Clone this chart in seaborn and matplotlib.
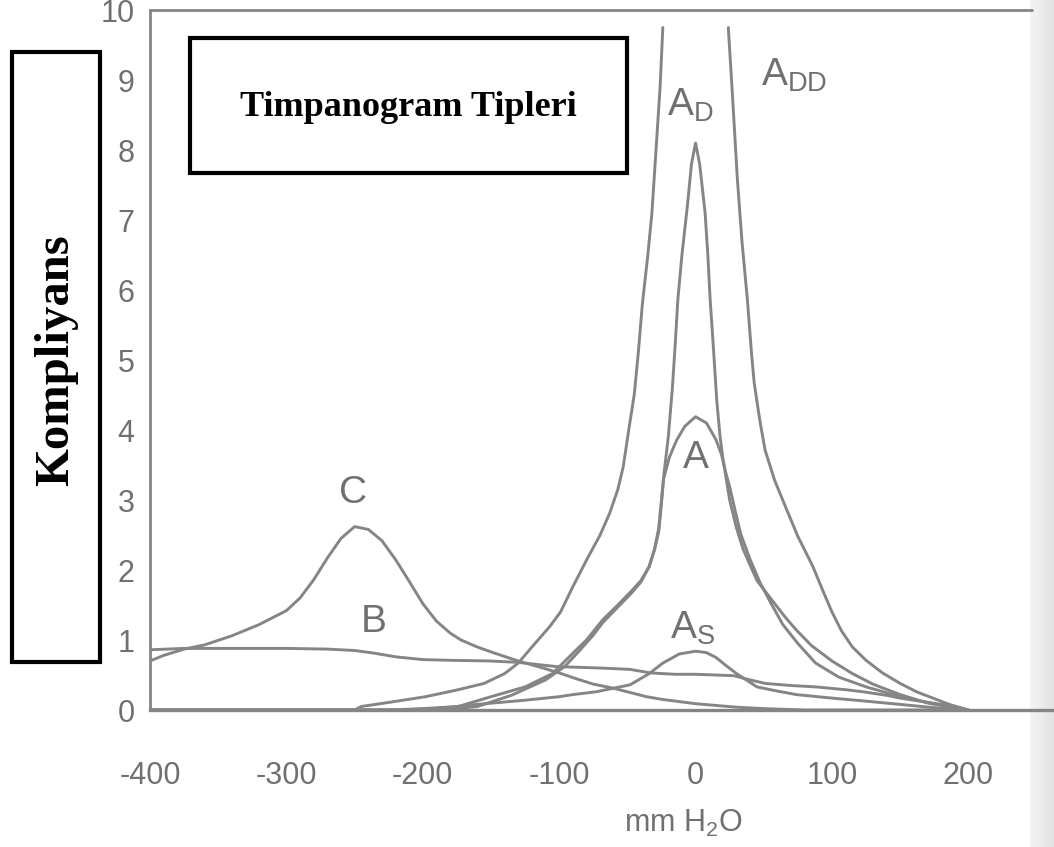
import numpy as np
import pandas as pd
import seaborn as sns
import matplotlib.pyplot as plt
from matplotlib.patches import Rectangle

# Tympanogram curves (pressure in mm H2O, compliance)
c_x = [-400, -390, -375, -360, -340, -320, -300, -290, -280, -270, -260, -250,
       -240, -230, -220, -210, -200, -190, -180, -172, -160, -147, -130, -112,
       -100, -88, -75, -60, -48, -36, -24, -12, 0, 12, 30, 50, 80, 200]
c_y = [0.70, 0.78, 0.87, 0.93, 1.06, 1.22, 1.42, 1.60, 1.86, 2.17, 2.45, 2.62,
       2.58, 2.42, 2.15, 1.84, 1.52, 1.27, 1.10, 1.00, 0.90, 0.81, 0.70, 0.60,
       0.53, 0.45, 0.37, 0.31, 0.25, 0.19, 0.15, 0.12, 0.09, 0.07, 0.04, 0.02, 0.0, 0.0]

b_x = [-400, -375, -350, -300, -270, -250, -235, -220, -200, -180, -150, -130,
       -102, -70, -48, -33, -15, 0, 15, 28, 40, 51, 70, 88, 110, 123, 140, 150,
       170, 190, 200]
b_y = [0.86, 0.88, 0.88, 0.88, 0.87, 0.85, 0.81, 0.76, 0.72, 0.71, 0.70, 0.68,
       0.62, 0.60, 0.58, 0.53, 0.51, 0.51, 0.50, 0.49, 0.43, 0.38, 0.35, 0.33,
       0.29, 0.26, 0.21, 0.17, 0.11, 0.05, 0.0]

as_x = [-400, -220, -190, -160, -125, -100, -90, -73, -48, -34, -24, -12, 0, 8,
        15, 22, 30, 38, 45, 60, 74, 100, 123, 150, 171, 195]
as_y = [0.0, 0.0, 0.02, 0.08, 0.14, 0.19, 0.22, 0.26, 0.36, 0.52, 0.67, 0.80,
        0.84, 0.82, 0.75, 0.64, 0.52, 0.42, 0.33, 0.27, 0.22, 0.17, 0.13, 0.08,
        0.04, 0.0]

a_x = [-400, -185, -160, -135, -110, -96, -85, -75, -68, -57, -47, -40, -34, -30,
       -27, -25, -23.5, -19, -14, -8, 0, 8, 15, 19, 22, 25, 29, 33, 40, 47.5, 56,
       64, 75, 88, 105, 125, 145, 162, 180, 195]
a_y = [0.0, 0.0, 0.05, 0.21, 0.43, 0.62, 0.85, 1.07, 1.25, 1.47, 1.67, 1.83, 2.05,
       2.30, 2.55, 2.95, 3.30, 3.62, 3.85, 4.05, 4.19, 4.10, 3.86, 3.65, 3.40,
       3.19, 2.85, 2.52, 2.15, 1.81, 1.50, 1.22, 0.95, 0.67, 0.47, 0.33, 0.22,
       0.14, 0.07, 0.0]

ad_x = [-400, -225, -200, -174, -150, -125, -105, -90, -80, -68, -57, -47, -40,
        -34, -30, -27, -25, -23, -20, -17, -15, -13, -10, -6, -3, 0, 3, 7, 9,
        10.7, 13, 15.5, 18, 20, 25, 30, 35, 45, 56, 66, 74, 85, 100, 115, 130,
        150, 170, 190, 200]
ad_y = [0.0, 0.0, 0.02, 0.05, 0.19, 0.33, 0.52, 0.81, 1.0, 1.29, 1.50, 1.70, 1.85,
        2.05, 2.30, 2.60, 3.00, 3.40, 3.90, 4.60, 5.20, 5.86, 6.50, 7.20, 7.80,
        8.10, 7.80, 7.10, 6.50, 5.86, 5.20, 4.43, 3.90, 3.60, 3.00, 2.60, 2.29,
        1.85, 1.57, 1.32, 1.14, 0.92, 0.70, 0.52, 0.37, 0.22, 0.10, 0.03, 0.0]

add_left_x = [-400, -250, -245, -221, -198, -174, -155, -140, -130, -120, -107,
              -99, -90, -80, -70, -63, -57, -53, -49, -45, -42, -39, -35, -32,
              -29, -26, -24]
add_left_y = [0.0, 0.0, 0.05, 0.12, 0.19, 0.29, 0.38, 0.52, 0.67, 0.90, 1.19,
              1.40, 1.76, 2.14, 2.50, 2.81, 3.15, 3.48, 4.00, 4.50, 5.10, 5.80,
              6.50, 7.10, 8.00, 8.90, 9.75]
add_right_x = [24, 27, 30.6, 34, 38, 41, 43, 47, 51, 58, 66, 75, 86, 93, 100, 107,
               115, 125, 137, 150, 162, 174, 186, 200]
add_right_y = [9.75, 8.80, 7.60, 6.70, 5.86, 5.10, 4.67, 4.15, 3.71, 3.28, 2.90,
               2.48, 2.05, 1.72, 1.40, 1.13, 0.90, 0.71, 0.53, 0.38, 0.26, 0.17,
               0.08, 0.0]

x_ticks = list(range(-400, 251, 50))
x_tick_labels = ["-400", "", "-300", "", "-200", "", "-100", "", "0", "", "100", "", "200", ""]
y_ticks = list(range(0, 11))

curve_labels = [("C", -251, 3.1), ("B", -236, 1.26), ("A", 0, 3.6),
                (r"$\mathregular{A_S}$", -2, 1.17), (r"$\mathregular{A_D}$", -4, 8.64),
                (r"$\mathregular{A_{DD}}$", 72, 9.07)]

# long table, one unit per drawn stroke
parts = [("C", c_x, c_y), ("B", b_x, b_y), ("As", as_x, as_y), ("A", a_x, a_y),
         ("Ad", ad_x, ad_y), ("Add_l", add_left_x, add_left_y),
         ("Add_r", add_right_x, add_right_y)]
rows = []
for name, xs, ys in parts:
    for i, (px, py) in enumerate(zip(xs, ys)):
        rows.append({"unit": name, "order": i, "pressure": px, "compliance": py})
df = pd.DataFrame(rows)

sns.set_style("white")
plt.rcParams['font.family'] = ['Liberation Sans', 'DejaVu Sans']

line_grey = "#858585"
text_grey = "#707070"

fig = plt.figure(figsize=(10.54, 8.47), dpi=100)

# faint page shadow on the right edge (drawn first, behind the chart)
shade = fig.add_axes([1030 / 1054, 0, 24 / 1054, 1])
shade.imshow(np.linspace(0, 1, 24)[None, :], cmap="Greys", vmin=-1.0, vmax=9,
             aspect="auto", extent=[0, 1, 0, 1])
shade.axis("off")

ax = fig.add_axes([150 / 1054, 137 / 847, 904 / 1054, 700 / 847])
ax.patch.set_alpha(0)

sns.lineplot(data=df, x="pressure", y="compliance", units="unit", estimator=None,
             sort=False, color=line_grey, linewidth=2.1, ax=ax, legend=False)

ax.set_xlim(-400, 262.8)
ax.set_ylim(0, 10)

for side in ["right", "top"]:
    ax.spines[side].set_visible(False)
ax.spines["left"].set_color(line_grey)
ax.spines["left"].set_linewidth(2.0)
ax.spines["bottom"].set_color(line_grey)
ax.spines["bottom"].set_linewidth(2.4)
ax.plot([-400, 247], [10, 10], color=line_grey, lw=2.0, clip_on=False)

ax.set_xticks(x_ticks)
ax.set_xticklabels(x_tick_labels)
ax.set_yticks(y_ticks)
ax.set_yticklabels([str(v) for v in y_ticks])
ax.tick_params(axis="x", direction="inout", length=16, width=1.5, colors=line_grey,
               labelcolor=text_grey, labelsize=22, pad=29)
ax.tick_params(axis="y", direction="inout", length=10, width=1.2, colors=line_grey,
               labelcolor=text_grey, labelsize=22, pad=6)
ax.set_xlabel(r"mm H$\mathregular{_2}$O", fontsize=22, color=text_grey)
ax.xaxis.set_label_coords((683 - 150) / 904, -0.14)
ax.set_ylabel("")

for txt, lx, ly in curve_labels:
    ax.text(lx, ly, txt, fontsize=28, color=text_grey, ha="center", va="center")

# boxes
fig.patches.append(Rectangle((12 / 1054, (847 - 662) / 847), 88 / 1054, 610 / 847,
                             transform=fig.transFigure, fill=True, facecolor="white",
                             edgecolor="black", linewidth=3))
fig.text(56 / 1054, 1 - 360 / 847, "Kompliyans", rotation=90, ha="center", va="center",
         fontsize=35, fontweight="bold", family="Liberation Serif", color="black")
fig.patches.append(Rectangle((190 / 1054, (847 - 173) / 847), 437 / 1054, 135 / 847,
                             transform=fig.transFigure, fill=True, facecolor="white",
                             edgecolor="black", linewidth=3))
fig.text(408 / 1054, 1 - 108 / 847, "Timpanogram Tipleri", ha="center", va="center",
         fontsize=26, fontweight="bold", family="Liberation Serif", color="black")

fig.savefig("out.png", dpi=100)
